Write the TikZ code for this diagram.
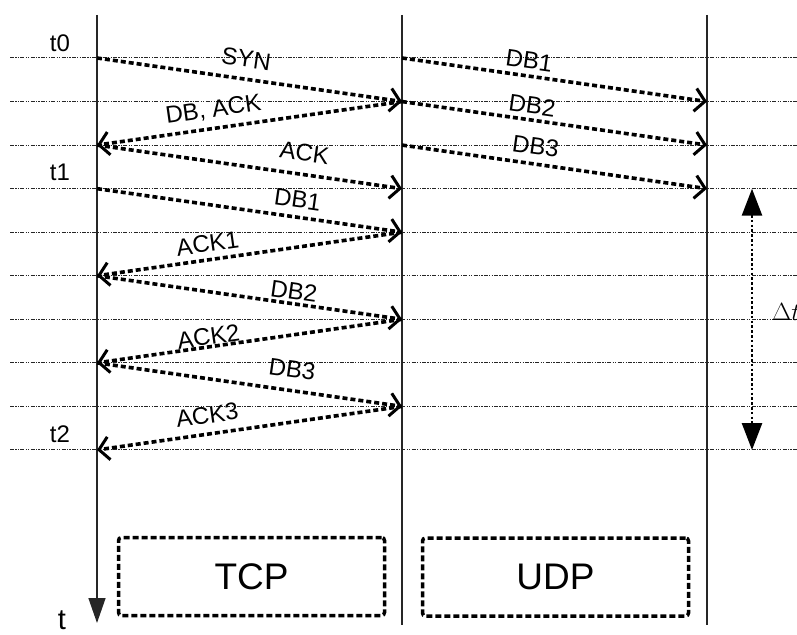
\documentclass[tikz,border=0pt]{standalone}
\usepackage{fontspec}
\setmainfont{Liberation Sans}
\usetikzlibrary{arrows.meta}
\begin{document}
\begin{tikzpicture}[x=1pt,y=-1pt,
  gridline/.style={line width=1pt, black!85, dash pattern=on 4pt off 1.3pt on 1.2pt off 1.3pt on 1.2pt off 1.3pt},
  life/.style={line width=1.4pt, black!85},
  msg/.style={line width=3.6pt, dash pattern=on 5pt off 3pt, -{Straight Barb[length=10pt,width=23pt,line width=3pt]}},
  lbl/.style={font=\fontsize{24}{24}\selectfont, inner sep=0pt, sloped},
  tlbl/.style={font=\fontsize{24}{24}\selectfont, inner sep=0pt},
  pbox/.style={draw, line width=3.5pt, dash pattern=on 6pt off 3pt, rounded corners=3pt,
    minimum width=266pt, minimum height=78pt, font=\fontsize{37}{37}\selectfont},
  bigtri/.tip={Triangle[length=27pt,width=20pt]}
]
\useasboundingbox (0,0) rectangle (797,634);
\clip (0,0) rectangle (797,634);

% horizontal time grid and lifeline anchors
\foreach \i in {0,...,9} {
  \pgfmathsetmacro\yy{58+43.55*\i}
  \coordinate (W\i) at (10,\yy);
  \coordinate (E\i) at (797,\yy);
  \coordinate (L\i) at (97,\yy);
  \coordinate (M\i) at (402,\yy);
  \coordinate (R\i) at (707,\yy);
  \draw[gridline] (W\i) -- (E\i);
}

% lifelines
\coordinate (Ltop) at (97,15);
\coordinate (Lbot) at (97,623);
\coordinate (Mtop) at (402,15);
\coordinate (Mbot) at (402,625);
\coordinate (Rtop) at (707,15);
\coordinate (Rbot) at (707,625);
\draw[life, -{Triangle[length=25pt,width=17pt]}] (Ltop) -- (Lbot);
\draw[life] (Mtop) -- (Mbot);
\draw[life] (Rtop) -- (Rbot);

% time labels
\node[tlbl] (t0) at (60,43) {t0};
\node[tlbl] (t1) at (60,172) {t1};
\node[tlbl] (t2) at (60,434) {t2};
\node[font=\fontsize{29}{29}\selectfont, inner sep=0pt] (t) at (62,620) {t};

% TCP messages
\draw[msg] (L0) -- node[lbl,pos=.48,above=10pt] {SYN} (M1);
\draw[msg] (M1) -- node[lbl,pos=.61,above=6.5pt] {DB, ACK} (L2);
\draw[msg] (L2) -- node[lbl,pos=.67,above=11.5pt] {ACK} (M3);
\draw[msg] (L3) -- node[lbl,pos=.65,above=7.5pt] {DB1} (M4);
\draw[msg] (M4) -- node[lbl,pos=.63,above=6pt] {ACK1} (L5);
\draw[msg] (L5) -- node[lbl,pos=.64,above=2.5pt] {DB2} (M6);
\draw[msg] (M6) -- node[lbl,pos=.63,above=0pt] {ACK2} (L7);
\draw[msg] (L7) -- node[lbl,pos=.63,above=11pt] {DB3} (M8);
\draw[msg] (M8) -- node[lbl,pos=.63,above=8.5pt] {ACK3} (L9);

% UDP messages
\draw[msg] (M0) -- node[lbl,pos=.41,above=5.5pt] {DB1} (R1);
\draw[msg] (M1) -- node[lbl,pos=.42,above=4.5pt] {DB2} (R2);
\draw[msg] (M2) -- node[lbl,pos=.43,above=7.5pt] {DB3} (R3);

% delta t
\coordinate (dtT) at (752,188.7);
\coordinate (dtB) at (752,450);
\draw[line width=2.6pt, dash pattern=on 2.6pt off 2.2pt, {bigtri}-{bigtri}] (dtT) -- (dtB);
\node[anchor=base west, inner sep=0pt, font=\fontsize{23}{23}\selectfont] (dt) at (772,320) {$\Delta t$};

% protocol boxes
\node[pbox] (tcp) at (251.5,576.5) {TCP};
\node[pbox] (udp) at (555.5,577) {UDP};
\end{tikzpicture}
\end{document}
